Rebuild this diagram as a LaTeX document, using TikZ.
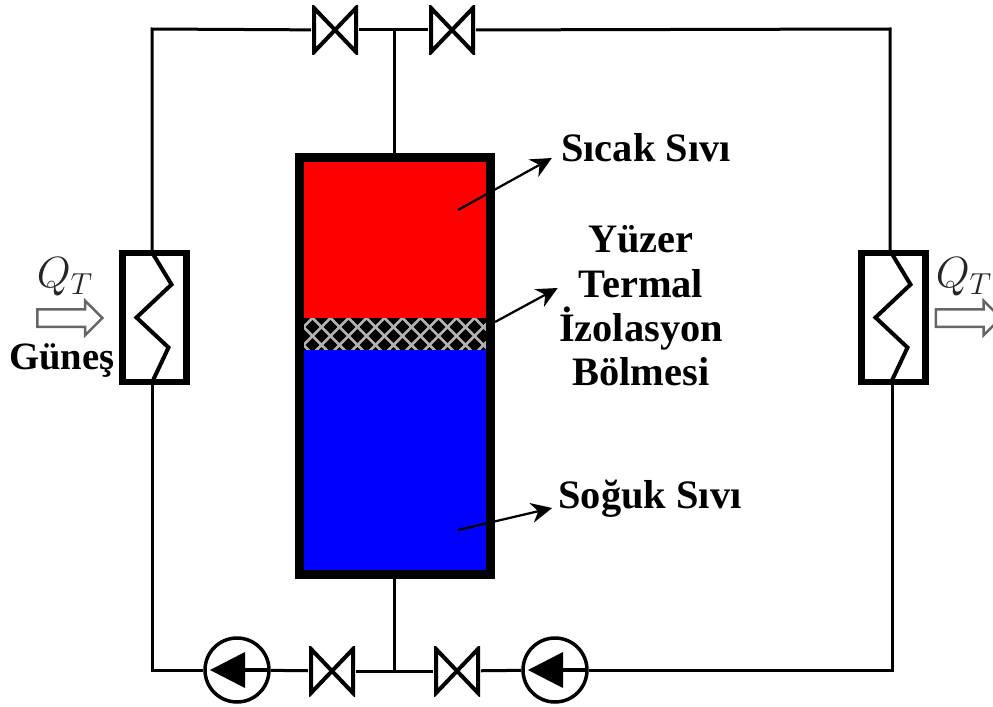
\documentclass[tikz,border=0pt]{standalone}
\usepackage{fontspec}
\setmainfont{Liberation Serif}
\usetikzlibrary{shapes.arrows, arrows.meta, positioning, calc}

\tikzset{
    pipe/.style={line width=0.06cm},
    leader/.style={line width=0.045cm, draw=black, -{Stealth[length=0.42cm, width=0.4cm]}},
    label/.style={font=\fontsize{23}{25.2}\selectfont\bfseries, align=center, inner sep=0.16cm},
    valve/.style={minimum width=0.94cm, minimum height=1.0cm, inner sep=0pt,
        path picture={
            \draw[line width=0.08cm, line join=miter]
                (-21,-22) -- (21,22) -- (21,-22) -- (-21,22) -- cycle;
        }},
    pump/.style={circle, draw, line width=0.07cm, minimum size=1.28cm, inner sep=0pt,
        path picture={
            \fill (-27,0) -- (8,-18) -- (8,18) -- cycle;
            \draw[line width=0.09cm] (0,0) -- (33,0);
        }},
    hx/.style={draw, line width=0.13cm, minimum width=1.28cm, minimum height=2.58cm, inner sep=0pt,
        path picture={
            \draw[line width=0.08cm]
                (-3,-66) -- (17,-33) -- (-18,0) -- (14,30) -- (-3,66);
        }},
    heat/.style={single arrow, draw=black!60, fill=white, line width=0.05cm, inner xsep=0pt, inner ysep=0.15cm,
        minimum height=1.3cm, single arrow head extend=0.17cm},
    qlabel/.style={font=\fontsize{24}{28}\selectfont, text=black!85, inner sep=0pt},
    bolge/.style={minimum width=3.66cm, inner sep=0pt}
}

\begin{document}
\begin{tikzpicture}[x=0.02cm, y=-0.02cm]
    \useasboundingbox (0,0) rectangle (993,706);

    \coordinate (koseTL) at (152,29);
    \coordinate (koseTR) at (890,29);
    \coordinate (koseBL) at (152,670);
    \coordinate (koseBR) at (892,670);
    \coordinate (tee) at (394,29);
    \coordinate (teeB) at (394,670);

    \node[bolge, fill=red, minimum height=3.16cm] (sicak) at (394.5,240) {};
    \node[bolge, minimum height=0.68cm, fill=black,
        path picture={
            \foreach \i in {-3,...,13} {
                \draw[gray!60, line width=0.05cm] (-100+\i*18,-17) -- ++(34,34);
                \draw[gray!60, line width=0.05cm] (-100+\i*18,-17) -- ++(-34,34);
            }
        }] (bolme) at (394.5,335) {};
    \node[bolge, fill=blue, minimum height=4.4cm] (soguk) at (394.5,460) {};
    \node[draw, line width=0.19cm, minimum width=3.82cm, minimum height=8.34cm, inner sep=0pt] (tank) at (395,366) {};

    \node[hx] (hxL) at (154.5,317.5) {};
    \node[hx] (hxR) at (893.5,317.5) {};

    \node[valve] (vTL) at (335,30) {};
    \node[valve] (vTR) at (452,30) {};
    \node[valve] (vBL) at (332,671) {};
    \node[valve] (vBR) at (457,671) {};
    \node[pump] (pL) at (237,670) {};
    \node[pump] (pR) at (555,670) {};

    \draw[pipe] (hxL.north -| koseTL) -- (koseTL) -- (vTL);
    \draw[pipe] (vTL) -- (vTR);
    \draw[pipe] (vTR) -- (koseTR) -- (hxR.north -| koseTR);
    \draw[pipe] (tee) -- (tank.north -| tee);
    \draw[pipe] (hxL.south -| koseBL) -- (koseBL) -- (pL);
    \draw[pipe] (pL) -- (vBL);
    \draw[pipe] (vBL) -- (vBR);
    \draw[pipe] (vBR) -- (pR);
    \draw[pipe] (pR) -- (koseBR) -- (hxR.south -| koseBR);
    \draw[pipe] (tank.south -| teeB) -- (teeB);

    \node[label] (lblSicak) at (646,148) {Sıcak Sıvı};
    \node[label] (lblBolme) at (641,306) {Yüzer\\Termal\\İzolasyon\\Bölmesi};
    \node[label] (lblSoguk) at (650,499) {Soğuk Sıvı};
    \node[label, font=\fontsize{22}{25}\selectfont\bfseries, inner sep=0pt] (lblGunes) at (62,361) {Güneş};

    \coordinate (okSicak) at (458,210);
    \coordinate (okBolme) at (495,322);
    \coordinate (okSoguk) at (458,530);
    \draw[leader] (okSicak) -- ([shift={(-1,10)}]lblSicak.west);
    \draw[leader] (okBolme) -- ([shift={(7,-18)}]lblBolme.west);
    \draw[leader] (okSoguk) -- ([shift={(2,9)}]lblSoguk.west);

    \node[heat] (qL) at (65.5,318) {};
    \node[heat] (qR) at (964,318) {};
    \node[qlabel] (qtL) at (65,277) {$Q_T$};
    \node[qlabel] (qtR) at (964,277) {$Q_T$};
\end{tikzpicture}
\end{document}
